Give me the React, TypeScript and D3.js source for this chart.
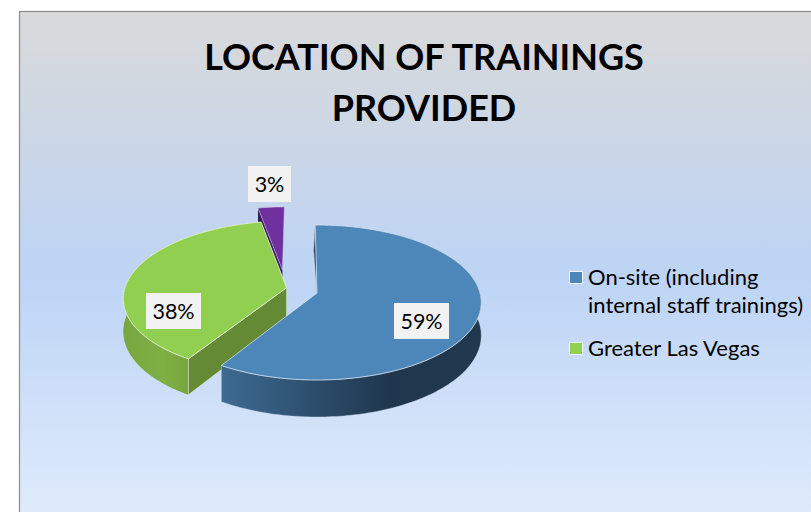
import React from "react";
import * as d3 from "d3";

const categories = ["On-site (including internal staff trainings)", "Greater Las Vegas", "Other"];
const shares = [59, 38, 3];
const sliceLabels = ["59%", "38%", "3%"];
const titleLines = ["LOCATION OF TRAININGS", "PROVIDED"];
const legendRows = [
  { lines: ["On-site (including", "internal staff trainings)"], color: "#4f86b9" },
  { lines: ["Greater Las Vegas"], color: "#92d050" },
];

const FONT = "Lato, Carlito, Calibri, sans-serif";
const CX = 317, CY = 293, RX = 163, RY = 76.3, K = 0.1225, DEPTH = 32.5;
const explode = [[0, 0], [-0.188, 0.07], [-0.22, 0.31]];
const topColors = ["#4d87ba", "#91cf50", "#7030a0"];

const slices = d3.pie<number>().sort(null).startAngle(-0.012).endAngle(2 * Math.PI - 0.012)(shares);

type P = [number, number];
function project(X: number, Y: number, z: number): P {
  const w = 1 + K * Y;
  return [CX + (RX * X) / w, CY - (RY * Y) / w + (z * DEPTH) / w];
}
const onRim = (a: number, off: number[], z: number): P =>
  project(Math.sin(a) + off[0], Math.cos(a) + off[1], z);
const apex = (off: number[], z: number): P => project(off[0], off[1], z);
const line = d3.line<P>().x((d) => d[0]).y((d) => d[1]);
const angles = (a0: number, a1: number) => {
  const n = Math.max(2, Math.ceil((a1 - a0) / 0.02));
  return d3.range(n + 1).map((i) => a0 + ((a1 - a0) * i) / n);
};
const rim = (a0: number, a1: number, off: number[], z: number) => angles(a0, a1).map((a) => onRim(a, off, z));

const topPath = (i: number) => {
  const s = slices[i];
  return line([apex(explode[i], 0), ...rim(s.startAngle, s.endAngle, explode[i], 0)])! + "Z";
};
const sidePath = (i: number, a0: number, a1: number) =>
  line([...rim(a0, a1, explode[i], 0), ...rim(a0, a1, explode[i], 1).reverse()])! + "Z";
const cutPath = (i: number, a: number) =>
  line([apex(explode[i], 0), onRim(a, explode[i], 0), onRim(a, explode[i], 1), apex(explode[i], 1)])! + "Z";

const labelBoxes = [
  { x: 394, y: 303, w: 55, h: 36 },
  { x: 146, y: 293, w: 55, h: 36 },
  { x: 248, y: 166, w: 43, h: 36 },
];

export default function App() {
  const blueStartRim = onRim(slices[0].startAngle, explode[0], 0);
  const blueApex = apex(explode[0], 0);
  return (
    <svg width={811} height={512} style={{ position: "absolute", left: 0, top: 0 }} fontFamily={FONT}>
      <defs>
        <linearGradient id="bg" gradientUnits="userSpaceOnUse" x1={0} y1={11} x2={0} y2={540}>
          <stop offset="0" stopColor="#d9d9d9" />
          <stop offset="0.5" stopColor="#bdd4f5" />
          <stop offset="1" stopColor="#e2edfc" />
        </linearGradient>
        <linearGradient id="blueSide" gradientUnits="userSpaceOnUse" x1={221} y1={0} x2={481} y2={0}>
          <stop offset="0" stopColor="#3d6b92" />
          <stop offset="0.65" stopColor="#1f364d" />
          <stop offset="1" stopColor="#22384e" />
        </linearGradient>
        <linearGradient id="greenSide" gradientUnits="userSpaceOnUse" x1={125} y1={0} x2={190} y2={0}>
          <stop offset="0" stopColor="#78a640" />
          <stop offset="0.6" stopColor="#7fb044" />
          <stop offset="1" stopColor="#76a33d" />
        </linearGradient>
      </defs>
      <rect x={19.5} y={11.5} width={820} height={540} fill="url(#bg)" stroke="#8c8c8c" strokeWidth={1.2} />

      {titleLines.map((t, i) => (
        <text key={t} x={424} y={70 + i * 51} textAnchor="middle" fontSize={36} fontWeight={700} fill="#000">
          {t}
        </text>
      ))}

      {/* purple slice */}
      <path d={cutPath(2, slices[2].startAngle)} fill="#3a1a5c" />
      <path d={topPath(2)} fill={topColors[2]} stroke="#d9d9e8" strokeWidth={0.5} />

      {/* green slice */}
      <path d={sidePath(1, slices[1].startAngle, slices[1].endAngle)} fill="url(#greenSide)" />
      <path d={cutPath(1, slices[1].startAngle)} fill="#648a35" stroke="#e6efd8" strokeWidth={0.6} />
      <path d={topPath(1)} fill={topColors[1]} stroke="#eef5e2" strokeWidth={0.8} />

      {/* blue slice */}
      <path d={sidePath(0, slices[0].startAngle + 0.5, slices[0].endAngle)} fill="url(#blueSide)" stroke="#cfd9e6" strokeWidth={0.4} />
      <path
        d={`M${blueApex[0]},${blueApex[1]}L${blueStartRim[0] - 1.5},${blueStartRim[1] + 25}L${blueStartRim[0]},${blueStartRim[1]}Z`}
        fill="#22384e"
        stroke="#9fb0c4"
        strokeWidth={0.4}
      />
      <path d={topPath(0)} fill={topColors[0]} stroke="#dfe8f2" strokeWidth={0.7} />

      {sliceLabels.map((t, i) => {
        const b = labelBoxes[i];
        return (
          <g key={t}>
            <rect x={b.x} y={b.y} width={b.w} height={b.h} fill="#f2f2f2" />
            <text x={b.x + b.w / 2} y={b.y + 25.5} textAnchor="middle" fontSize={21.5} fill="#000">
              {t}
            </text>
          </g>
        );
      })}

      {legendRows.map((row, i) => {
        const top = i === 0 ? 271 : 342;
        return (
          <g key={row.lines[0]} data-category={categories[i]}>
            <rect x={569.5} y={top + 0.5} width={13} height={12} fill={row.color} stroke="#f2f6fb" strokeWidth={1} />
            {row.lines.map((l, j) => (
              <text key={l} x={588} y={top + 13.5 + j * 28} fontSize={22} fill="#000">
                {l}
              </text>
            ))}
          </g>
        );
      })}
    </svg>
  );
}
